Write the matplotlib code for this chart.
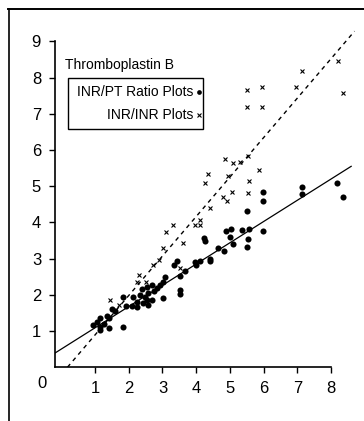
import matplotlib.pyplot as plt
from matplotlib.lines import Line2D
from matplotlib.patches import Rectangle
from matplotlib import font_manager

# font: narrow sans if available
names = {f.name for f in font_manager.fontManager.ttflist}
FONT = "Liberation Sans Narrow" if "Liberation Sans Narrow" in names else "Liberation Sans"
plt.rcParams['font.family'] = [FONT, 'DejaVu Sans']

# INR/PT ratio plots (dots)
pt_x = [5.98, 5.98, 7.14, 7.14, 8.18, 8.36, 5.5, 4.89, 5.03, 5.35, 5.58, 5.98,
        5.0, 5.55, 5.1, 5.52, 4.65, 4.83, 4.24, 4.26, 4.4, 4.4, 3.97, 4.12, 4.0,
        3.43, 3.33, 3.67, 3.52, 3.08, 3.02, 2.93, 2.84, 2.69, 2.75, 2.54, 2.38,
        2.34, 2.48, 2.58, 2.54, 2.69, 2.24, 2.43, 2.58, 2.14, 2.1, 2.25, 1.92,
        1.83, 3.02, 3.52, 3.52, 1.5, 1.35, 1.15, 1.05, 0.95, 1.15, 1.27, 1.4,
        1.15, 1.4, 1.84, 1.6]
pt_y = [4.83, 4.58, 4.97, 4.78, 5.08, 4.69, 4.31, 3.76, 3.83, 3.78, 3.83, 3.76,
        3.6, 3.53, 3.39, 3.33, 3.3, 3.22, 3.58, 3.48, 2.99, 2.93, 2.9, 2.92, 2.83,
        2.93, 2.82, 2.65, 2.53, 2.5, 2.36, 2.28, 2.19, 2.28, 2.11, 2.22, 2.17,
        2.0, 1.94, 2.06, 1.86, 1.86, 1.81, 1.77, 1.72, 1.94, 1.69, 1.67, 1.69,
        1.94, 1.92, 2.14, 2.03, 1.6, 1.4, 1.36, 1.25, 1.17, 1.11, 1.2, 1.35,
        1.03, 1.09, 1.1, 1.55]

# INR/INR plots (x)
inr_x = [5.5, 5.95, 5.5, 5.95, 7.14, 6.96, 8.21, 8.36, 4.86, 5.09, 5.3, 5.55,
         4.36, 4.26, 4.95, 5.87, 5.57, 4.8, 4.91, 5.07, 5.54, 4.4, 4.12, 3.97,
         4.12, 3.3, 3.1, 3.02, 3.62, 2.9, 2.71, 3.52, 2.31, 2.24, 2.51, 1.45, 1.7]
inr_y = [7.67, 7.75, 7.19, 7.19, 8.17, 7.75, 8.47, 7.58, 5.75, 5.64, 5.67, 5.84,
         5.33, 5.08, 5.27, 5.45, 5.14, 4.69, 4.58, 4.83, 4.8, 4.4, 4.06, 3.92,
         3.92, 3.94, 3.73, 3.3, 3.44, 2.97, 2.83, 2.74, 2.55, 2.36, 2.36, 1.86, 1.72]

# regression lines (slope, intercept) and their x ranges
pt_fit = (0.587, 0.50)
pt_range = [-0.19, 8.6]
inr_fit = (1.09, -0.20)
inr_range = [0.18, 8.7]

x_ticks = [1, 2, 3, 4, 5, 6, 7, 8]
y_ticks = [1, 2, 3, 4, 5, 6, 7, 8, 9]

fig = plt.figure(figsize=(3.64, 4.21), dpi=100)
ax = fig.add_axes([0.151, 0.128, 0.823, 0.808])

ax.plot(pt_x, pt_y, 'o', color='black', markersize=4.4, markeredgewidth=0)
ax.plot(inr_x, inr_y, 'x', color='black', markersize=3.2, markeredgewidth=0.8)

ax.plot(pt_range, [pt_fit[0] * v + pt_fit[1] for v in pt_range],
        color='black', lw=0.9)
ax.plot(inr_range, [inr_fit[0] * v + inr_fit[1] for v in inr_range],
        color='black', lw=1.0, ls=(0, (3, 3)))

ax.set_xlim(-0.19, 8.7)
ax.set_ylim(0, 9.4)
for s in ['top', 'right']:
    ax.spines[s].set_visible(False)
ax.spines['left'].set_bounds(0, 9)
ax.spines['bottom'].set_bounds(-0.19, 8.0)
ax.spines['left'].set_linewidth(1.2)
ax.spines['bottom'].set_linewidth(1.2)
ax.set_xticks(x_ticks)
ax.set_yticks(y_ticks)
ax.tick_params(axis='both', direction='out', length=4, width=1, labelsize=12, pad=6)

# "0" label at the origin corner
fig.text(42 / 364, 1 - 384 / 421, "0", fontsize=12, ha='center', va='center')

# legend
fig.text(65 / 364, 1 - 65 / 421, "Thromboplastin B", fontsize=10, ha='left', va='center')
fig.add_artist(Rectangle((68 / 364, 1 - 129 / 421), 135 / 364, 51 / 421,
                         transform=fig.transFigure, fill=False, lw=1.0, ec='black'))
fig.text(193 / 364, 1 - 92 / 421, "INR/PT Ratio Plots", fontsize=10, ha='right', va='center')
fig.text(193 / 364, 1 - 115 / 421, "INR/INR Plots", fontsize=10, ha='right', va='center')
fig.add_artist(Line2D([199 / 364], [1 - 92 / 421], marker='o', color='black',
                      markersize=3.4, markeredgewidth=0, transform=fig.transFigure))
fig.add_artist(Line2D([199 / 364], [1 - 115 / 421], marker='x', color='black',
                      markersize=2.6, markeredgewidth=0.8, transform=fig.transFigure))

# scanned frame lines
fig.add_artist(Line2D([8 / 364, 1], [1 - 9 / 421, 1 - 9 / 421], color='black', lw=1.4,
                      transform=fig.transFigure))
fig.add_artist(Line2D([9 / 364, 9 / 364], [1 - 9 / 421, 0], color='black', lw=1.2,
                      transform=fig.transFigure))

fig.savefig("out.png", dpi=100)
